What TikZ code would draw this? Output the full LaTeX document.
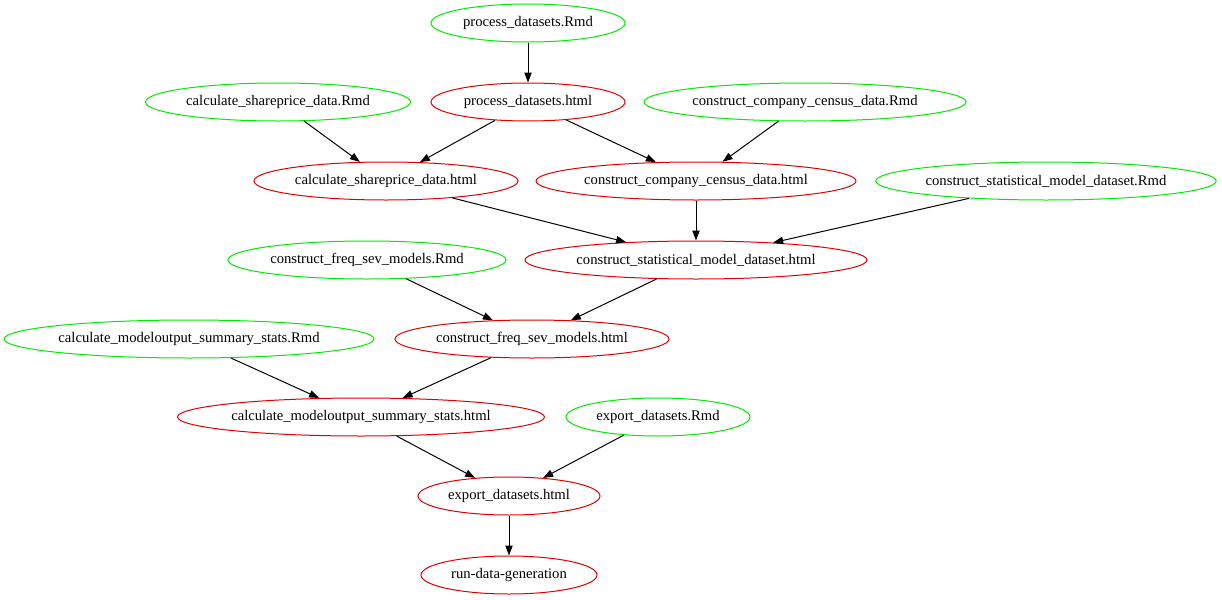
\documentclass[tikz,border=0pt]{standalone}
\usepackage{fontspec}
\setmainfont{Liberation Serif}
\usetikzlibrary{shapes.geometric,arrows.meta}
\tikzset{
  gv/.style={ellipse, draw, line width=0.75pt, inner sep=0pt, minimum height=28.5pt, font=\fontsize{11}{13}\selectfont},
  rmd/.style={gv, draw={rgb,255:red,0;green,235;blue,0}},
  html/.style={gv, draw={rgb,255:red,225;green,0;blue,0}},
  edge/.style={draw=black, line width=0.75pt, -{Triangle[length=7.5pt,width=5.5pt]}}
}
\begin{document}
\begin{tikzpicture}[x=0.75pt,y=-0.75pt]
\useasboundingbox (0,0) rectangle (1222,600);
\node[rmd, minimum width=194*0.75pt] (pdr) at (528,23) {process\_datasets.Rmd};
\node[html, minimum width=194*0.75pt] (pdh) at (528,102) {process\_datasets.html};
\node[rmd, minimum width=265*0.75pt] (csr) at (278,102) {calculate\_shareprice\_data.Rmd};
\node[rmd, minimum width=322*0.75pt] (ccr) at (805,102) {construct\_company\_census\_data.Rmd};
\node[html, minimum width=264*0.75pt] (csh) at (386,181) {calculate\_shareprice\_data.html};
\node[html, minimum width=320*0.75pt] (cch) at (696,181) {construct\_company\_census\_data.html};
\node[rmd, minimum width=340*0.75pt] (smr) at (1046,181) {construct\_statistical\_model\_dataset.Rmd};
\node[html, minimum width=342*0.75pt] (smh) at (696,260) {construct\_statistical\_model\_dataset.html};
\node[rmd, minimum width=278*0.75pt] (fsr) at (367,260) {construct\_freq\_sev\_models.Rmd};
\node[html, minimum width=274*0.75pt] (fsh) at (532,339) {construct\_freq\_sev\_models.html};
\node[rmd, minimum width=370*0.75pt] (mor) at (189,339) {calculate\_modeloutput\_summary\_stats.Rmd};
\node[html, minimum width=366*0.75pt] (moh) at (361,417) {calculate\_modeloutput\_summary\_stats.html};
\node[rmd, minimum width=184*0.75pt] (edr) at (658,417) {export\_datasets.Rmd};
\node[html, minimum width=182*0.75pt] (edh) at (509,496) {export\_datasets.html};
\node[html, minimum width=176*0.75pt] (run) at (509,575) {run-data-generation};
\draw[edge] (pdr) -- (pdh);
\draw[edge] (csr) -- (csh);
\draw[edge] (pdh) -- (csh);
\draw[edge] (pdh) -- (cch);
\draw[edge] (ccr) -- (cch);
\draw[edge] (csh) -- (smh);
\draw[edge] (cch) -- (smh);
\draw[edge] (smr) -- (smh);
\draw[edge] (fsr) -- (fsh);
\draw[edge] (smh) -- (fsh);
\draw[edge] (mor) -- (moh);
\draw[edge] (fsh) -- (moh);
\draw[edge] (moh) -- (edh);
\draw[edge] (edr) -- (edh);
\draw[edge] (edh) -- (run);
\end{tikzpicture}
\end{document}
